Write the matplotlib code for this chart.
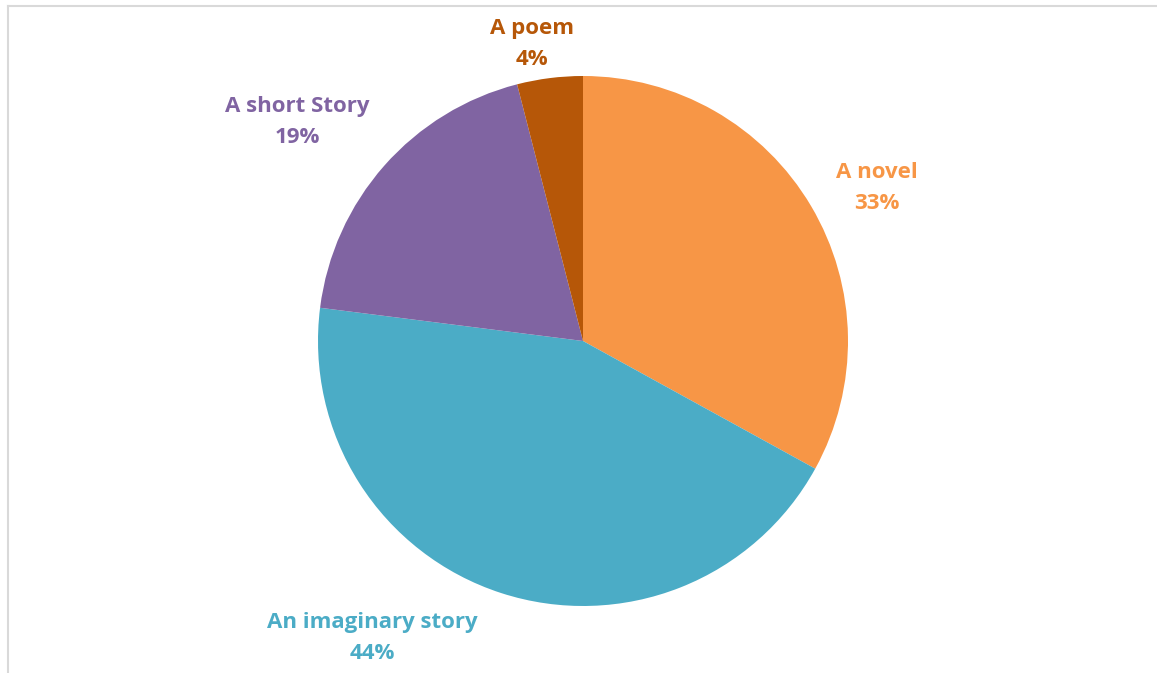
import matplotlib
matplotlib.use("Agg")
import matplotlib.pyplot as plt
from matplotlib.lines import Line2D

categories = ["A novel", "An imaginary story", "A short Story", "A poem"]
shares = [33, 44, 19, 4]
colors = ["#F79646", "#4BACC6", "#8064A2", "#B65708"]
label_xy = [(877, 188), (372, 638), (297, 122), (532, 44)]

W, H = 1157, 673
fig = plt.figure(figsize=(W / 100, H / 100), dpi=100)
ax = fig.add_axes([0, 0, 1, 1])
ax.set_xlim(0, W)
ax.set_ylim(0, H)
ax.set_aspect("equal")
ax.axis("off")

ax.pie(shares, colors=colors, startangle=90, counterclock=False,
       center=(583, H - 341), radius=265,
       wedgeprops=dict(linewidth=0))
ax.set_xlim(0, W)
ax.set_ylim(0, H)

for name, val, col, (x, y) in zip(categories, shares, colors, label_xy):
    ax.text(x, H - y, f"{name}\n{val}%", color=col, fontsize=16,
            fontweight="bold", family="Open Sans", ha="center", va="center",
            linespacing=1.65)

# chart frame edges
fig.add_artist(Line2D([7.5 / W, 7.5 / W], [0, 1 - 5.5 / H], color="#D9D9D9",
                      lw=1.5, transform=fig.transFigure))
fig.add_artist(Line2D([7.5 / W, 1], [1 - 5.5 / H, 1 - 5.5 / H], color="#D9D9D9",
                      lw=1.5, transform=fig.transFigure))

fig.savefig("out.png", dpi=100, facecolor="white")
